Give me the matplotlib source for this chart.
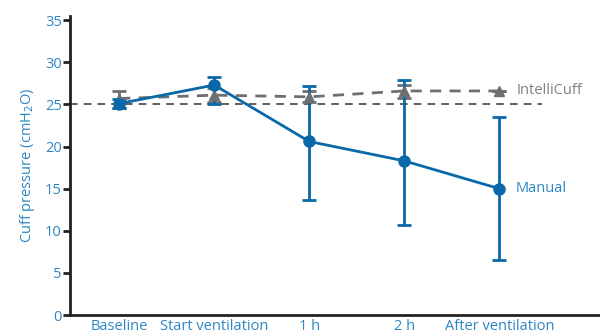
import matplotlib.pyplot as plt

plt.rcParams['font.family'] = ['Open Sans', 'DejaVu Sans']

# Data
categories = ["Baseline", "Start ventilation", "1 h", "2 h", "After ventilation"]
manual = [25.1, 27.3, 20.6, 18.3, 15.0]
manual_lo = [24.6, 25.0, 13.6, 10.7, 6.5]
manual_hi = [25.6, 28.3, 27.2, 27.9, 23.5]
intelli = [25.7, 26.1, 25.9, 26.6, 26.6]
intelli_lo = [24.6, 25.3, 25.3, 25.8, 26.6]
intelli_hi = [26.6, 27.0, 26.6, 27.3, 26.6]
reference_level = 25

blue = "#0a68a8"
text_blue = "#2d86c4"
grey = "#6e6f73"

x = list(range(len(categories)))

fig = plt.figure(figsize=(6, 3.33), dpi=100)
ax = fig.add_axes([0.117, 0.054, 0.883, 0.898])

ax.plot([-0.52, 4.45], [reference_level, reference_level], "--", color="#333333", lw=1.1, dashes=(5, 4))

ax.errorbar(x, intelli,
            yerr=[[m - l for m, l in zip(intelli, intelli_lo)], [h - m for m, h in zip(intelli, intelli_hi)]],
            color=grey, marker="^", ms=7, lw=2, ls="--", dashes=(4, 3), capsize=5, capthick=2, elinewidth=2)
ax.errorbar(x, manual,
            yerr=[[m - l for m, l in zip(manual, manual_lo)], [h - m for m, h in zip(manual, manual_hi)]],
            color=blue, marker="o", ms=8, lw=2, capsize=5, capthick=2, elinewidth=2)

ax.text(4.18, intelli[-1], "IntelliCuff", color="#808080", fontsize=10.5, va="center")
ax.text(4.17, manual[-1], "Manual", color=text_blue, fontsize=10.5, va="center")

ax.set_xlim(-0.516, 5.06)
ax.set_ylim(0, 35.5)
ax.set_yticks(range(0, 36, 5))
ax.set_xticks(x)
ax.set_xticklabels(categories)
ax.tick_params(axis="y", colors="#222222", labelcolor=text_blue, labelsize=10.5, length=5, width=2, direction="out", pad=1)
ax.tick_params(axis="x", length=0, labelcolor=text_blue, labelsize=10.5, pad=3)
ax.set_ylabel("Cuff pressure (cmH$_2$O)", color=text_blue, fontsize=10.5, labelpad=6)

for side in ["top", "right"]:
    ax.spines[side].set_visible(False)
for side in ["left", "bottom"]:
    ax.spines[side].set_linewidth(2)
    ax.spines[side].set_color("#222222")

fig.savefig("out.png", dpi=100)
